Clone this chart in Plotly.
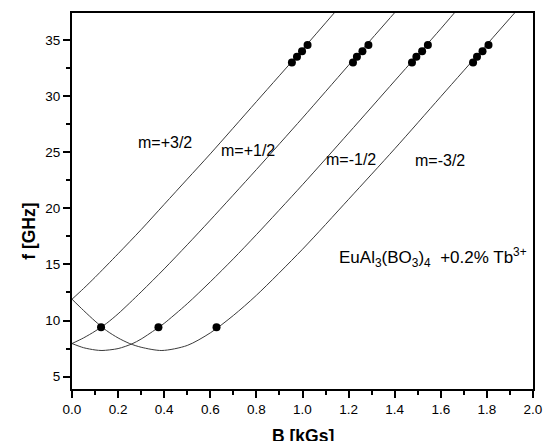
import plotly.graph_objects as go

# Theoretical branches
B_p32 = [0, 0.05, 0.1, 0.2, 0.3, 0.4, 0.5, 0.6, 0.8, 1.0, 1.15]
f_p32 = [11.9, 12.85, 13.85, 15.95, 18.1, 20.35, 22.6, 24.85, 29.5, 34.15, 37.7]

B_p12 = [0, 0.05, 0.1, 0.15, 0.2, 0.3, 0.4, 0.5, 0.6, 0.8, 1.0, 1.2, 1.42]
f_p12 = [7.95, 8.45, 9.05, 9.75, 10.6, 12.55, 14.6, 16.75, 18.95, 23.45, 28.05, 32.75, 37.9]

B_m12 = [0, 0.05, 0.1, 0.13, 0.2, 0.26, 0.3, 0.375, 0.4, 0.5, 0.6, 0.7, 0.8, 1.0, 1.2, 1.4, 1.6, 1.7]
f_m12 = [7.95, 7.58, 7.38, 7.33, 7.5, 7.92, 8.35, 9.38, 9.75, 11.5, 13.45, 15.5, 17.65, 22.1, 26.7, 31.35, 36.0, 38.4]

B_m32 = [0, 0.05, 0.1, 0.15, 0.2, 0.25, 0.3, 0.39, 0.5, 0.6, 0.7, 0.8, 1.0, 1.2, 1.4, 1.6, 1.8, 1.95]
f_m32 = [11.9, 10.9, 9.95, 9.1, 8.45, 7.95, 7.62, 7.33, 7.78, 8.9, 10.45, 12.25, 16.35, 20.8, 25.3, 29.95, 34.6, 38.1]

# Experimental points
dots_B = [0.126, 0.375, 0.627,
          0.954, 0.976, 0.998, 1.022,
          1.219, 1.236, 1.260, 1.286,
          1.475, 1.494, 1.519, 1.544,
          1.740, 1.757, 1.781, 1.807]
dots_f = [9.4, 9.4, 9.4,
          33.0, 33.5, 34.0, 34.55,
          33.0, 33.5, 34.0, 34.55,
          33.0, 33.5, 34.0, 34.55,
          33.0, 33.5, 34.0, 34.55]

branch_labels = ["m=+3/2", "m=+1/2", "m=-1/2", "m=-3/2"]
label_B = [0.404, 0.764, 1.211, 1.598]
label_f = [25.84, 25.12, 24.32, 24.23]

FONT = "Arial, Liberation Sans, sans-serif"

fig = go.Figure()
for bx, fy in [(B_p32, f_p32), (B_p12, f_p12), (B_m12, f_m12), (B_m32, f_m32)]:
    fig.add_trace(go.Scatter(x=bx, y=fy, mode="lines",
                             line=dict(color="#3a3a3a", width=1, shape="spline", smoothing=0.8),
                             showlegend=False, hoverinfo="skip"))
fig.add_trace(go.Scatter(x=dots_B, y=dots_f, mode="markers",
                         marker=dict(color="black", size=8),
                         showlegend=False))

for t, bx, fy in zip(branch_labels, label_B, label_f):
    fig.add_annotation(x=bx, y=fy, xref="x", yref="y", text=t, showarrow=False,
                       font=dict(family=FONT, size=16, color="black"))

fig.add_annotation(x=1.151, y=15.6, xref="x", yref="y", xanchor="left",
                   text="EuAl<sub>3</sub>(BO<sub>3</sub>)<sub>4</sub>  +0.2% Tb<sup>3+</sup>",
                   showarrow=False, font=dict(family=FONT, size=17, color="black"))

# Axis titles
fig.add_annotation(x=0.5, y=-0.125, xref="paper", yref="paper", yanchor="middle",
                   text="<b>B [kGs]</b>", showarrow=False,
                   font=dict(family=FONT, size=17.5, color="black"))
fig.add_annotation(x=-0.12, y=0.42, xref="paper", yref="paper", text="<b>f [GHz]</b>",
                   textangle=-90, showarrow=False,
                   font=dict(family=FONT, size=17.5, color="black"))

fig.update_layout(
    width=543, height=441, autosize=False,
    margin=dict(l=72, r=10, t=13, b=52),
    plot_bgcolor="white", paper_bgcolor="white",
    font=dict(family=FONT, size=13.5, color="black"),
    xaxis=dict(range=[0, 2.0], dtick=0.2, tick0=0, tickformat=".1f",
               showline=True, linewidth=2, linecolor="black", mirror=True,
               ticks="outside", ticklen=7, tickwidth=1.5, tickcolor="black",
               showgrid=False, zeroline=False, automargin=False,
               minor=dict(dtick=0.1, ticks="outside", ticklen=4, tickwidth=1.5, tickcolor="black")),
    yaxis=dict(range=[3.9, 37.4], dtick=5, tick0=0,
               showline=True, linewidth=2, linecolor="black", mirror=True,
               ticks="outside", ticklen=7, tickwidth=1.5, tickcolor="black",
               showgrid=False, zeroline=False, automargin=False,
               minor=dict(dtick=2.5, ticks="outside", ticklen=4, tickwidth=1.5, tickcolor="black")),
)

fig.write_html("out.html", config={"responsive": False})
